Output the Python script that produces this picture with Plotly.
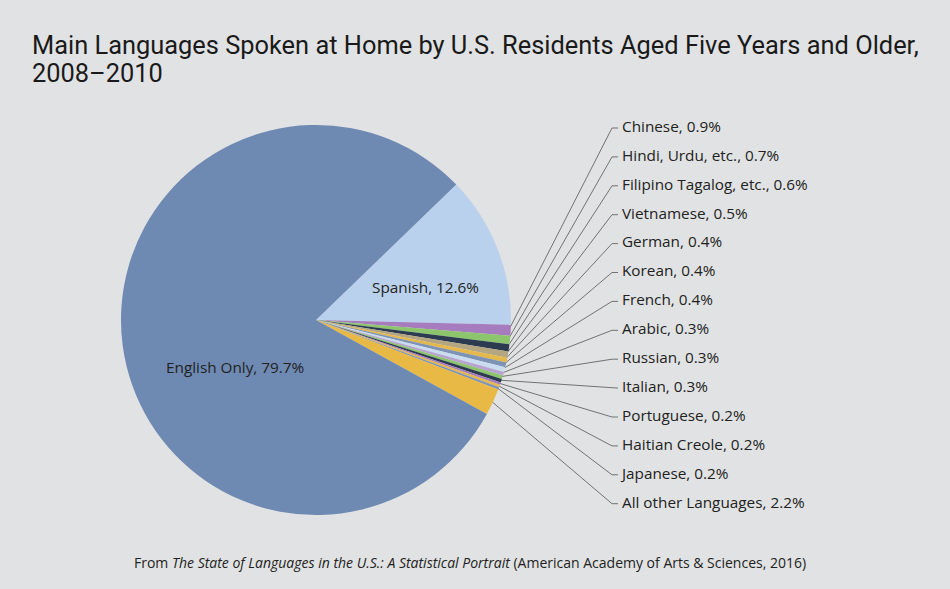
import math
import plotly.graph_objects as go

# Data ---------------------------------------------------------------------------------------------
languages = ['Spanish', 'Chinese', 'Hindi, Urdu, etc.', 'Filipino Tagalog, etc.', 'Vietnamese', 'German',
             'Korean', 'French', 'Arabic', 'Russian', 'Italian', 'Portuguese', 'Haitian Creole', 'Japanese',
             'All other Languages', 'English Only']
shares = [12.6, 0.9, 0.7, 0.6, 0.5, 0.4, 0.4, 0.4, 0.3, 0.3, 0.3, 0.2, 0.2, 0.2, 2.2, 79.7]
colors = ['#b9d1ec', '#a67cbf', '#8cc56c', '#2c3b50', '#b3a681', '#e5b84c', '#7d93b5', '#cadcf0',
          '#b8a2d1', '#8cc56c', '#2c3b50', '#a67cbf', '#e5b84c', '#7d93b5', '#e8b945', '#6e8ab2']
title_lines = ['Main Languages Spoken at Home by U.S. Residents Aged Five Years and Older,', '2008–2010']

W, H = 950, 589
BG = '#e1e2e3'
CX, CY, R = 316, 320, 195        # pie centre / radius in pixels
START = 44.0                     # angle (deg, counter-clockwise from 3 o'clock) where Spanish starts
LABEL_X, LABEL_Y0, LABEL_STEP = 622, 128, 28.9
LABEL_FONT = dict(family='Open Sans, Noto Sans, sans-serif', size=15.3, color='#222222')
# ---------------------------------------------------------------------------------------------------

fig = go.Figure()

fig.add_trace(go.Pie(
    labels=languages, values=shares, sort=False, direction='clockwise',
    rotation=90 - START, marker=dict(colors=colors, line=dict(width=0)),
    textinfo='none', hoverinfo='label+percent', showlegend=False,
    domain=dict(x=[(CX - R) / W, (CX + R) / W], y=[1 - (CY + R) / H, 1 - (CY - R) / H]),
))

# leader lines for the small slices, from the slice edge to the label column
total = sum(shares)
cum = 0
small_x, small_y, lab_x, lab_y, lab_txt = [], [], [], [], []
k = 0
for name, v in zip(languages, shares):
    mid = math.radians(START - 360 * (cum + v / 2) / total)
    cum += v
    if name in ('Spanish', 'English Only'):
        continue
    ly = LABEL_Y0 + k * LABEL_STEP
    ex, ey = CX + (R - 2) * math.cos(mid), CY - (R - 2) * math.sin(mid)
    small_x += [ex, LABEL_X - 10, LABEL_X - 4, None]
    small_y += [ey, ly, ly, None]
    lab_x.append(LABEL_X)
    lab_y.append(ly)
    lab_txt.append(f'{name}, {v}%')
    k += 1

fig.add_trace(go.Scatter(x=small_x, y=small_y, mode='lines', line=dict(color='#555555', width=0.8),
                         hoverinfo='skip', showlegend=False))
fig.add_trace(go.Scatter(x=lab_x, y=lab_y, mode='text', text=lab_txt, textposition='middle right',
                         textfont=LABEL_FONT, hoverinfo='skip', showlegend=False))

# labels inside the two big slices
fig.add_annotation(x=425, y=287, text=f'{languages[0]}, {shares[0]}%', showarrow=False, font=LABEL_FONT)
fig.add_annotation(x=235, y=367, text=f'{languages[-1]}, {shares[-1]}%', showarrow=False, font=LABEL_FONT)

# title (two lines)
for i, line in enumerate(title_lines):
    fig.add_annotation(x=30, y=45 + 28 * i, xanchor='left', text=line, showarrow=False,
                       font=dict(family='Roboto, sans-serif', size=25.4, color='#1a1a1a'))

# source line
fig.add_annotation(
    x=470, y=562, showarrow=False, font=dict(family='Open Sans, Noto Sans, sans-serif', size=14, color='#222222'),
    text='From <i>The State of Languages in the U.S.: A Statistical Portrait</i> '
         '(American Academy of Arts & Sciences, 2016)')

fig.update_layout(
    width=W, height=H,
    margin=dict(l=0, r=0, t=0, b=0),
    paper_bgcolor=BG, plot_bgcolor=BG,
    xaxis=dict(range=[0, W], visible=False, fixedrange=True, domain=[0, 1]),
    yaxis=dict(range=[H, 0], visible=False, fixedrange=True, domain=[0, 1]),
)

fig.write_html("out.html", config={'displayModeBar': False},
               post_script="document.body.style.margin='0';document.body.style.overflow='hidden';")
